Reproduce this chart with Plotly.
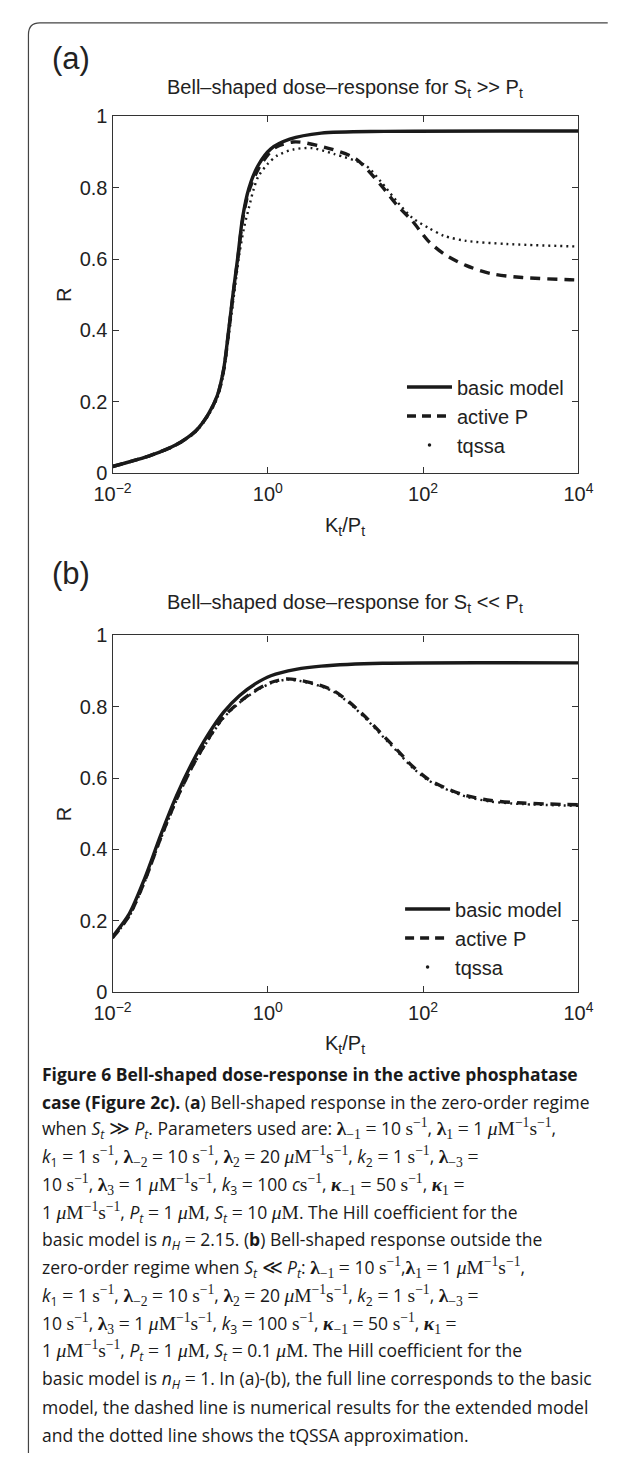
import plotly.graph_objects as go

W, H = 618, 1459

# ---------------- data ----------------
# Panel (a): S_t >> P_t
a_x_basic = [0.01, 0.0316, 0.0665, 0.1164, 0.169, 0.224, 0.27, 0.31, 0.357, 0.41, 0.472, 0.569, 0.752, 1.094, 1.914, 4.86, 31.6, 10000]
a_r_basic = [0.018, 0.050, 0.080, 0.117, 0.163, 0.218, 0.292, 0.393, 0.504, 0.605, 0.715, 0.798, 0.863, 0.909, 0.936, 0.953, 0.958, 0.959]

a_x_active = [0.01, 0.0316, 0.0665, 0.1164, 0.169, 0.224, 0.27, 0.31, 0.357, 0.41, 0.472, 0.569, 0.752, 1.0, 1.3, 2.1, 2.8, 6.4, 13.6, 28.6, 45.7, 73, 116, 186, 355, 750, 1900, 7760, 10000]
a_r_active = [0.018, 0.050, 0.079, 0.116, 0.162, 0.216, 0.289, 0.389, 0.500, 0.600, 0.708, 0.790, 0.852, 0.892, 0.915, 0.928, 0.927, 0.909, 0.881, 0.807, 0.752, 0.706, 0.651, 0.614, 0.582, 0.559, 0.548, 0.542, 0.541]

a_x_tqssa = [0.01, 0.0316, 0.0665, 0.1164, 0.169, 0.224, 0.27, 0.31, 0.366, 0.43, 0.494, 0.569, 0.653, 0.752, 1.0, 1.32, 2.1, 3.67, 7.05, 18, 28.6, 45.7, 73, 116, 186, 355, 1200, 10000]
a_r_tqssa = [0.018, 0.049, 0.078, 0.114, 0.159, 0.211, 0.280, 0.375, 0.498, 0.614, 0.688, 0.743, 0.794, 0.831, 0.867, 0.890, 0.907, 0.911, 0.895, 0.863, 0.817, 0.762, 0.715, 0.688, 0.665, 0.651, 0.642, 0.635]

# Panel (b): S_t << P_t
b_x_basic = [0.01, 0.0164, 0.0261, 0.0417, 0.0665, 0.106, 0.169, 0.27, 0.43, 0.686, 1.094, 2.3, 4.86, 30, 10000]
b_r_basic = [0.155, 0.219, 0.320, 0.440, 0.550, 0.643, 0.721, 0.785, 0.831, 0.864, 0.887, 0.905, 0.914, 0.922, 0.923]

b_x_active = [0.01, 0.0164, 0.0261, 0.0417, 0.0665, 0.106, 0.169, 0.27, 0.43, 0.686, 1.094, 1.74, 2.78, 4.86, 7.05, 11.2, 18, 28.6, 45.7, 73, 116, 186, 355, 750, 1900, 10000]
b_r_active = [0.152, 0.214, 0.313, 0.432, 0.540, 0.632, 0.708, 0.772, 0.813, 0.845, 0.868, 0.878, 0.873, 0.859, 0.845, 0.813, 0.772, 0.726, 0.680, 0.633, 0.597, 0.574, 0.551, 0.537, 0.530, 0.525]

b_x_tqssa = [0.01, 0.0164, 0.0261, 0.0417, 0.0665, 0.106, 0.169, 0.27, 0.43, 0.686, 1.094, 1.74, 2.78, 4.86, 7.05, 11.2, 18, 28.6, 45.7, 73, 116, 186, 355, 750, 1900, 10000]
b_r_tqssa = [0.151, 0.212, 0.310, 0.429, 0.537, 0.629, 0.705, 0.769, 0.811, 0.843, 0.866, 0.876, 0.871, 0.857, 0.842, 0.810, 0.768, 0.722, 0.676, 0.629, 0.594, 0.571, 0.548, 0.534, 0.527, 0.522]

series_names = ["basic model", "active P", "tqssa"]

x_tick_vals = [0.01, 1, 100, 10000]
x_tick_text = ["10<sup>−2</sup>", "10<sup>0</sup>", "10<sup>2</sup>", "10<sup>4</sup>"]
y_tick_vals = [0, 0.2, 0.4, 0.6, 0.8, 1]
y_tick_text = ["0", "0.2", "0.4", "0.6", "0.8", "1"]

panel_titles = ["Bell–shaped dose–response for S<sub>t</sub> >> P<sub>t</sub>",
                "Bell–shaped dose–response for S<sub>t</sub> << P<sub>t</sub>"]
panel_labels = ["(a)", "(b)"]


def m(t):
    """math-set fragment (serif), as in the typeset caption"""
    return f'<span style="font-family:Liberation Serif, DejaVu Serif, serif;font-size:19.5px">{t}</span>'


SINV = m("s<sup>−1</sup>")
UMS = m("<i>μ</i>M<sup>−1</sup>s<sup>−1</sup>")
UM = m("<i>μ</i>M")
EQ = m("=")
St = "<i>S<sub>t</sub></i>"
Pt = "<i>P<sub>t</sub></i>"


def lam(sub):
    return m(f"<b>λ</b><sub>{sub}</sub>")


def kap(sub):
    return m(f"<i><b>κ</b></i><sub>{sub}</sub>")


caption_lines = [
    "<b>Figure 6 Bell-shaped dose-response in the active phosphatase</b>",
    "<b>case (Figure 2c).</b> (<b>a</b>) Bell-shaped response in the zero-order regime",
    f"when {St} {m('≫')} {Pt}. Parameters used are: {lam('−1')} {EQ} 10 {SINV}, {lam('1')} {EQ} 1 {UMS},",
    f"<i>k</i><sub>1</sub> {EQ} 1 {SINV}, {lam('−2')} {EQ} 10 {SINV}, {lam('2')} {EQ} 20 {UMS}, <i>k</i><sub>2</sub> {EQ} 1 {SINV}, {lam('−3')} {EQ}",
    f"10 {SINV}, {lam('3')} {EQ} 1 {UMS}, <i>k</i><sub>3</sub> {EQ} 100 <i>c</i>{SINV}, {kap('−1')} {EQ} 50 {SINV}, {kap('1')} {EQ}",
    f"1 {UMS}, {Pt} {EQ} 1 {UM}, {St} {EQ} 10 {UM}. The Hill coefficient for the",
    f"basic model is <i>n<sub>H</sub></i> {EQ} 2.15. (<b>b</b>) Bell-shaped response outside the",
    f"zero-order regime when {St} {m('≪')} {Pt}: {lam('−1')} {EQ} 10 {SINV},{lam('1')} {EQ} 1 {UMS},",
    f"<i>k</i><sub>1</sub> {EQ} 1 {SINV}, {lam('−2')} {EQ} 10 {SINV}, {lam('2')} {EQ} 20 {UMS}, <i>k</i><sub>2</sub> {EQ} 1 {SINV}, {lam('−3')} {EQ}",
    f"10 {SINV}, {lam('3')} {EQ} 1 {UMS}, <i>k</i><sub>3</sub> {EQ} 100 {SINV}, {kap('−1')} {EQ} 50 {SINV}, {kap('1')} {EQ}",
    f"1 {UMS}, {Pt} {EQ} 1 {UM}, {St} {EQ} 0.1 {UM}. The Hill coefficient for the",
    f"basic model is <i>n<sub>H</sub></i> {EQ} 1. In (a)-(b), the full line corresponds to the basic",
    "model, the dashed line is numerical results for the extended model",
    "and the dotted line shows the tQSSA approximation.",
]

# ---------------- layout geometry (pixels) ----------------
PX_L, PX_R = 99, 592
PANELS = [(107, 469), (634, 996)]   # (top, bottom) of each plot area
LABEL_Y = [48, 571]
TITLE_Y = [79, 602]
XLAB_Y = [523, 1049]
INK = "#1a1a1a"
AXC = "#333333"
FONT = "Liberation Sans, Arial, sans-serif"
CAP_FONT = "Open Sans, Noto Sans, sans-serif"


def fx(px):
    return px / W


def fy(py):
    return 1 - py / H


fig = go.Figure()

data = [
    (a_x_basic, a_r_basic, a_x_active, a_r_active, a_x_tqssa, a_r_tqssa),
    (b_x_basic, b_r_basic, b_x_active, b_r_active, b_x_tqssa, b_r_tqssa),
]

for i, (xb, rb, xa, ra, xt, rt) in enumerate(data):
    xref = "x" if i == 0 else "x2"
    yref = "y" if i == 0 else "y2"
    leg = "legend" if i == 0 else "legend2"
    fig.add_trace(go.Scatter(x=xt, y=rt, mode="lines", line=dict(color=INK, width=2.4, dash="2px,4px", shape="spline", smoothing=0.8),
                             showlegend=False, xaxis=xref, yaxis=yref, hoverinfo="skip"))
    fig.add_trace(go.Scatter(x=xa, y=ra, mode="lines", line=dict(color=INK, width=3.4, dash="10px,7px", shape="spline", smoothing=0.8),
                             name=series_names[1], showlegend=False, xaxis=xref, yaxis=yref))
    fig.add_trace(go.Scatter(x=xb, y=rb, mode="lines", line=dict(color=INK, width=3.4, shape="spline", smoothing=0.8),
                             name=series_names[0], showlegend=False, xaxis=xref, yaxis=yref))
    # legend entries
    fig.add_trace(go.Scatter(x=[None], y=[None], mode="lines", line=dict(color=INK, width=3.4),
                             name=series_names[0], legend=leg, xaxis=xref, yaxis=yref))
    fig.add_trace(go.Scatter(x=[None], y=[None], mode="lines", line=dict(color=INK, width=3.4, dash="9px,6px"),
                             name=series_names[1], legend=leg, xaxis=xref, yaxis=yref))
    fig.add_trace(go.Scatter(x=[None], y=[None], mode="markers", marker=dict(color=INK, size=3.5),
                             name=series_names[2], legend=leg, xaxis=xref, yaxis=yref))

axis_common = dict(showline=True, linecolor=AXC, linewidth=1.2, mirror="allticks", ticks="inside",
                   ticklen=6, tickcolor=AXC, tickwidth=1.2, showgrid=False, zeroline=False,
                   tickfont=dict(family=FONT, size=20, color="#222"))

layout_axes = {}
for i, (top, bot) in enumerate(PANELS):
    sx = "xaxis" if i == 0 else "xaxis2"
    sy = "yaxis" if i == 0 else "yaxis2"
    layout_axes[sx] = dict(axis_common, type="log", range=[-2, 4], domain=[fx(PX_L), fx(PX_R)],
                           tickvals=x_tick_vals, ticktext=x_tick_text, anchor="y" if i == 0 else "y2",
                           ticklabelstandoff=3)
    layout_axes[sy] = dict(axis_common, range=[0, 1], domain=[fy(bot), fy(top)],
                           tickvals=y_tick_vals, ticktext=y_tick_text, anchor="x" if i == 0 else "x2")

annotations = []
for i, (top, bot) in enumerate(PANELS):
    cx = (PX_L + PX_R) / 2
    annotations.append(dict(text=panel_labels[i], x=fx(33), y=fy(LABEL_Y[i]), xref="paper", yref="paper",
                            xanchor="left", yanchor="middle", showarrow=False,
                            font=dict(family=FONT, size=31, color="#222")))
    annotations.append(dict(text=panel_titles[i], x=fx(cx), y=fy(TITLE_Y[i]), xref="paper", yref="paper",
                            xanchor="center", yanchor="middle", showarrow=False,
                            font=dict(family=FONT, size=20, color="#222")))
    annotations.append(dict(text="K<sub>t</sub>/P<sub>t</sub>", x=fx(cx), y=fy(XLAB_Y[i]), xref="paper", yref="paper",
                            xanchor="center", yanchor="middle", showarrow=False,
                            font=dict(family=FONT, size=20, color="#222")))
    annotations.append(dict(text="R", x=fx(47), y=fy((top + bot) / 2), xref="paper", yref="paper",
                            xanchor="center", yanchor="middle", showarrow=False, textangle=-90,
                            font=dict(family=FONT, size=20, color="#222")))

CAP_Y0, CAP_DY = 1079, 28.2
for k, line in enumerate(caption_lines):
    annotations.append(dict(text=line, x=fx(22), y=fy(CAP_Y0 + k * CAP_DY), xref="paper", yref="paper",
                            xanchor="left", yanchor="middle", showarrow=False, align="left",
                            font=dict(family=CAP_FONT, size=17.5, color="#1a1a1a")))

# rounded frame (top-left corner visible)
frame_path = (f"M {fx(W + 5)},{fy(12)} L {fx(22)},{fy(12)} "
              f"Q {fx(10)},{fy(12)} {fx(10)},{fy(24)} L {fx(10)},{fy(H + 5)}")

legend_common = dict(bgcolor="rgba(0,0,0,0)", borderwidth=0, xanchor="right", yanchor="top",
                     font=dict(family=FONT, size=20, color="#222"), tracegroupgap=0, itemwidth=45,
                     traceorder="normal")

fig.update_layout(
    width=W, height=H, autosize=False,
    margin=dict(l=0, r=0, t=0, b=0),
    paper_bgcolor="white", plot_bgcolor="white",
    showlegend=True,
    legend=dict(legend_common, x=fx(582), y=fy(PANELS[0][0] + 255)),
    legend2=dict(legend_common, x=fx(580), y=fy(PANELS[1][0] + 258)),
    annotations=annotations,
    shapes=[dict(type="path", path=frame_path, xref="paper", yref="paper",
                 line=dict(color="#444", width=1.2))],
    **layout_axes,
)

fig.write_html("out.html")
